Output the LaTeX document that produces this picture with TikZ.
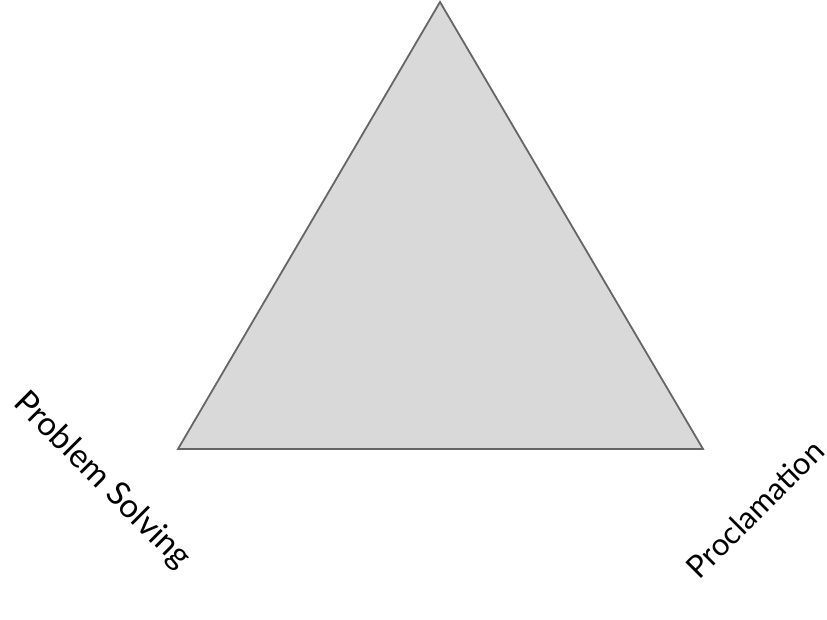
\documentclass[tikz,border=0pt]{standalone}
\usepackage{fontspec}
\setmainfont{Lato}
\begin{document}
\begin{tikzpicture}[x=1pt,y=-1pt,
  tri/.style={draw=gray!80!black, fill={rgb,255:red,217;green,217;blue,217}, line width=1.8pt, line join=miter},
  lbl/.style={font=\fontsize{31}{36}\selectfont, inner sep=0pt}]
\useasboundingbox (0,0) rectangle (827,620);
\coordinate (A) at (440,2);
\coordinate (B) at (178,449);
\coordinate (C) at (703,449);
\draw[tri] (A) -- (B) -- (C) -- cycle;
\node[lbl, font=\fontsize{33}{38}\selectfont, rotate=-45] (ps) at (102,481) {Problem Solving};
\node[lbl, rotate=45] (pr) at (755,509) {Proclamation};
\end{tikzpicture}
\end{document}
